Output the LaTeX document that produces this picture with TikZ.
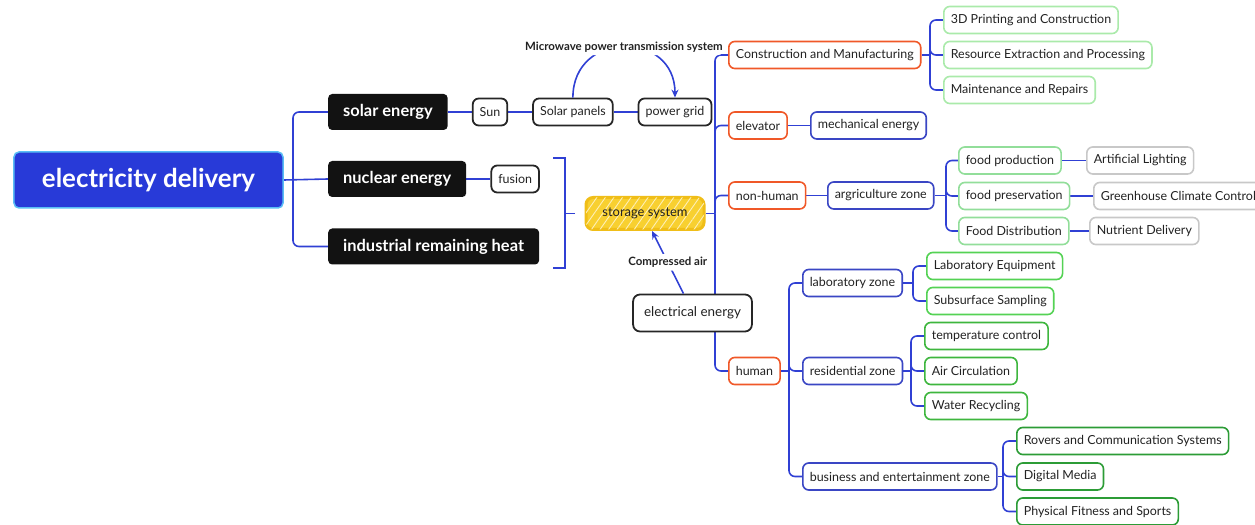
\documentclass[tikz,border=0pt]{standalone}
\usepackage{fontspec}
\setmainfont{Lato}
\usetikzlibrary{positioning, arrows.meta, backgrounds, patterns.meta}

\definecolor{Linkblue}{RGB}{48,64,212}
\definecolor{Rootblue}{RGB}{40,58,216}
\definecolor{Rootrim}{RGB}{90,190,245}
\definecolor{Orangerim}{RGB}{240,88,40}
\definecolor{Bluerim}{RGB}{58,70,196}
\definecolor{Greenpale}{RGB}{170,234,170}
\definecolor{Greenlight}{RGB}{146,222,154}
\definecolor{Greenmid}{RGB}{84,210,84}
\definecolor{Greendeep}{RGB}{62,182,62}
\definecolor{Greendark}{RGB}{44,156,54}
\definecolor{Greyrim}{RGB}{200,200,200}
\definecolor{Storefill}{RGB}{248,208,48}
\definecolor{Storerim}{RGB}{240,190,24}
\definecolor{Textdark}{RGB}{34,34,34}

\begin{document}
\begin{tikzpicture}[
  x=1bp, y=-1bp,
  every node/.style={font=\fontsize{12.5}{15}\selectfont, text=Textdark},
  box/.style={
    rectangle, rounded corners=6bp,
    draw, line width=1.6bp, fill=white,
    minimum height=27bp, inner xsep=7bp, inner ysep=0bp
  },
  plain/.style={box, draw=black!85, line width=1.8bp},
  orangebox/.style={box, draw=Orangerim},
  bluebox/.style={box, draw=Bluerim},
  greybox/.style={box, draw=Greyrim},
  source/.style={
    rectangle, rounded corners=4bp, fill=black!93,
    minimum height=36bp, inner xsep=15bp,
    text=white, font=\fontsize{16.5}{19}\selectfont\bfseries
  },
  link/.style={draw=Linkblue, line width=1.6bp, rounded corners=6bp},
  etiq/.style={font=\fontsize{11.5}{13}\selectfont\bfseries, fill=white, inner sep=1bp}
]
  \clip (0,0) rectangle (1255,525);

  % --- Root and energy sources ---
  \node[rectangle, rounded corners=5bp, fill=Rootblue, draw=Rootrim, line width=1.5bp,
        minimum width=269bp, minimum height=56bp, text=white,
        font=\fontsize{26}{30}\selectfont\bfseries] (root) at (148.5,180) {electricity delivery};

  \node[source, anchor=west] (solar)    at (328,112)   {solar energy};
  \node[source, anchor=west] (nuclear)  at (328,179)   {nuclear energy};
  \node[source, anchor=west] (industry) at (328,246.5) {industrial remaining heat};
  \coordinate (rootfork) at (293,179);

  % --- Solar chain ---
  \node[plain, right=24bp of solar]  (sun)    {Sun};
  \node[plain, right=24bp of sun]    (panels) {Solar panels};
  \node[plain, right=24bp of panels] (grid)   {power grid};
  \node[plain, right=24bp of nuclear] (fusion) {fusion};

  % --- Storage and the electrical hub ---
  \node[rectangle, rounded corners=7bp, fill=Storefill, draw=Storerim, line width=3bp,
        minimum width=118bp, minimum height=32bp, font=\fontsize{13}{15}\selectfont,
        postaction={pattern={Lines[angle=55, distance=7bp, line width=0.9bp]},
                    pattern color=white!65!Storefill}] (store)
        at (645,213.5) {storage system};
  \coordinate (trunk) at (715,213.5);
  \coordinate (brtop) at (553,158);
  \coordinate (brbot) at (553,268);
  \coordinate (brmid) at (575,213.5);

  \node[plain, rounded corners=7bp, minimum height=37bp, inner xsep=11bp,
        font=\fontsize{13.5}{16}\selectfont] (elec) at (692.5,313) {electrical energy};

  % --- Branches off the trunk ---
  \node[orangebox, anchor=west] (cons)     at (728,55)    {Construction and Manufacturing};
  \node[orangebox, anchor=west] (elevator) at (728,125.5) {elevator};
  \node[orangebox, anchor=west] (nonhuman) at (728,195.5) {non-human};
  \node[orangebox, anchor=west] (human)    at (728,371)   {human};

  \node[box, draw=Greenpale, anchor=west] (print)    at (943,20)  {3D Printing and Construction};
  \node[box, draw=Greenpale, anchor=west] (extract)  at (943,55)  {Resource Extraction and Processing};
  \node[box, draw=Greenpale, anchor=west] (repair)   at (943,90)  {Maintenance and Repairs};

  \node[bluebox, anchor=west] (mech)  at (810,125.5) {mechanical energy};
  \node[bluebox, anchor=west] (agri)  at (827,195.5) {argriculture zone};

  \node[box, draw=Greenlight, anchor=west] (produce)  at (958,160.5) {food production};
  \node[box, draw=Greenlight, anchor=west] (preserve) at (958,196)   {food preservation};
  \node[box, draw=Greenlight, anchor=west] (distrib)  at (958,231)   {Food Distribution};

  \node[greybox, anchor=west] (lighting)   at (1086,160.5) {Artificial Lighting};
  \node[greybox, anchor=west] (greenhouse) at (1093,196)   {Greenhouse Climate Control};
  \node[greybox, anchor=west] (nutrient)   at (1089,231)   {Nutrient Delivery};

  % --- Human side ---
  \node[bluebox, anchor=west] (lab)      at (802,283)   {laboratory zone};
  \node[bluebox, anchor=west] (resident) at (802,371)   {residential zone};
  \node[bluebox, anchor=west] (business) at (802,476.5) {business and entertainment zone};

  \node[box, draw=Greenmid, anchor=west] (labequip) at (926,266) {Laboratory Equipment};
  \node[box, draw=Greenmid, anchor=west] (sampling) at (926,301) {Subsurface Sampling};

  \node[box, draw=Greendeep, anchor=west] (temp)  at (924,336) {temperature control};
  \node[box, draw=Greendeep, anchor=west] (air)   at (924,371) {Air Circulation};
  \node[box, draw=Greendeep, anchor=west] (water) at (924,406) {Water Recycling};

  \node[box, draw=Greendark, anchor=west] (rovers)  at (1016,441)   {Rovers and Communication Systems};
  \node[box, draw=Greendark, anchor=west] (media)   at (1016,476.5) {Digital Media};
  \node[box, draw=Greendark, anchor=west] (fitness) at (1016,511.5) {Physical Fitness and Sports};

  % --- Fork points ---
  \coordinate (consfork)  at (930,55);
  \coordinate (agrifork)  at (946,195.5);
  \coordinate (humanfork) at (789,371);
  \coordinate (labfork)   at (913,283);
  \coordinate (resfork)   at (911,371);
  \coordinate (busfork)   at (1003,476.5);

  % --- Connectors, kept under the nodes ---
  \begin{scope}[on background layer]
    \draw[link] (root.east) -- (nuclear.west);
    \foreach \src in {solar, industry}
      \draw[link] (rootfork) |- (\src.west);

    \draw[link] (solar) -- (sun) -- (panels) -- (grid);
    \draw[link] (nuclear) -- (fusion);

    \draw[link, rounded corners=0pt] (brtop) -- ++(12,0) |- (brbot);
    \draw[link] (brmid) -- ++(-10,0);

    \draw[link] (store.east) -- (trunk);
    \foreach \dst in {cons, elevator, nonhuman, human}
      \draw[link] (trunk) |- (\dst.west);

    \draw[link] (cons.east) -- (consfork);
    \foreach \dst in {print, extract, repair}
      \draw[link] (consfork) |- (\dst.west);
    \draw[link] (elevator) -- (mech);
    \draw[link] (nonhuman) -- (agri);
    \draw[link] (agri.east) -- (agrifork);
    \foreach \dst in {produce, preserve, distrib}
      \draw[link] (agrifork) |- (\dst.west);
    \draw[link] (produce) -- (lighting);
    \draw[link] (preserve) -- (greenhouse);
    \draw[link] (distrib) -- (nutrient);

    \draw[link] (human.east) -- (humanfork);
    \foreach \dst in {lab, resident, business}
      \draw[link] (humanfork) |- (\dst.west);
    \draw[link] (lab.east) -- (labfork);
    \foreach \dst in {labequip, sampling}
      \draw[link] (labfork) |- (\dst.west);
    \draw[link] (resident.east) -- (resfork);
    \foreach \dst in {temp, air, water}
      \draw[link] (resfork) |- (\dst.west);
    \draw[link] (business.east) -- (busfork);
    \foreach \dst in {rovers, media, fitness}
      \draw[link] (busfork) |- (\dst.west);
  \end{scope}

  % --- Transfer arrows ---
  \draw[link, -{Stealth[length=8bp, width=7bp]}]
    (panels.north) to[out=90, in=90, looseness=1.7]
      node[etiq, pos=0.5, inner ysep=3bp] {Microwave power transmission system}
    (grid.north);

  \draw[link, -{Stealth[length=8bp, width=7bp]}]
    ([xshift=-9bp]elec.north) -- node[etiq, inner ysep=3bp] {Compressed air}
    ([xshift=7bp]store.south);
\end{tikzpicture}
\end{document}
